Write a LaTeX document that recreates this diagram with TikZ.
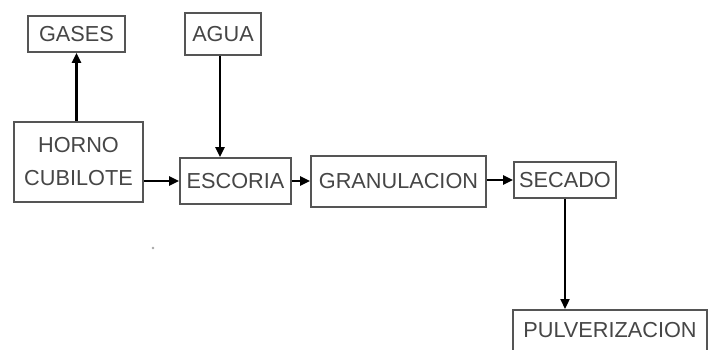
\documentclass[tikz,border=0pt]{standalone}
\usepackage{fontspec}
\setmainfont{Liberation Sans}
\usetikzlibrary{arrows.meta}
\definecolor{txtgray}{RGB}{70,70,70}
\definecolor{boxgray}{RGB}{85,85,85}
\begin{document}
\begin{tikzpicture}[x=1pt,y=-1pt,
  box/.style={draw=boxgray, line width=1.6pt, text=txtgray, inner sep=0pt,
    font=\fontsize{21.7}{33}\selectfont, align=center},
  arr/.style={draw=black, line width=2.3pt, -{Triangle[length=10pt,width=9pt]}}]
\useasboundingbox (0,0) rectangle (710,350);
\fill[white] (0,0) rectangle (710,350);
\node[box, minimum width=97pt, minimum height=36pt] (gases) at (76.5,34) {GASES};
\node[box, minimum width=76pt, minimum height=42pt] (agua) at (223,34) {AGUA};
\node[box, minimum width=129pt, minimum height=80pt] (horno) at (78.5,162) {HORNO\\CUBILOTE};
\node[box, minimum width=111pt, minimum height=46pt] (escoria) at (235.5,181) {ESCORIA};
\node[box, minimum width=175pt, minimum height=51pt] (gran) at (398.5,181.5) {GRANULACION};
\node[box, minimum width=102pt, minimum height=36pt] (secado) at (565,180) {SECADO};
\node[box, minimum width=194pt, text height=22.5pt, text depth=13pt, inner ysep=5pt, anchor=north] (pulv) at (610,309) {PULVERIZACION};
\fill[gray!70] (153,248) circle (1.3);
\draw[arr] (gases.south |- horno.north) -- (gases.south);
\draw[arr] ([xshift=-3pt]agua.south) -- ([xshift=-3pt]agua.south |- escoria.north);
\draw[arr] (escoria.west -| horno.east) -- (escoria.west);
\draw[arr] (escoria.east) -- (escoria.east -| gran.west);
\draw[arr] (gran.east |- secado.west) -- (secado.west);
\draw[arr] (secado.south) -- (secado.south |- pulv.north);
\end{tikzpicture}
\end{document}
